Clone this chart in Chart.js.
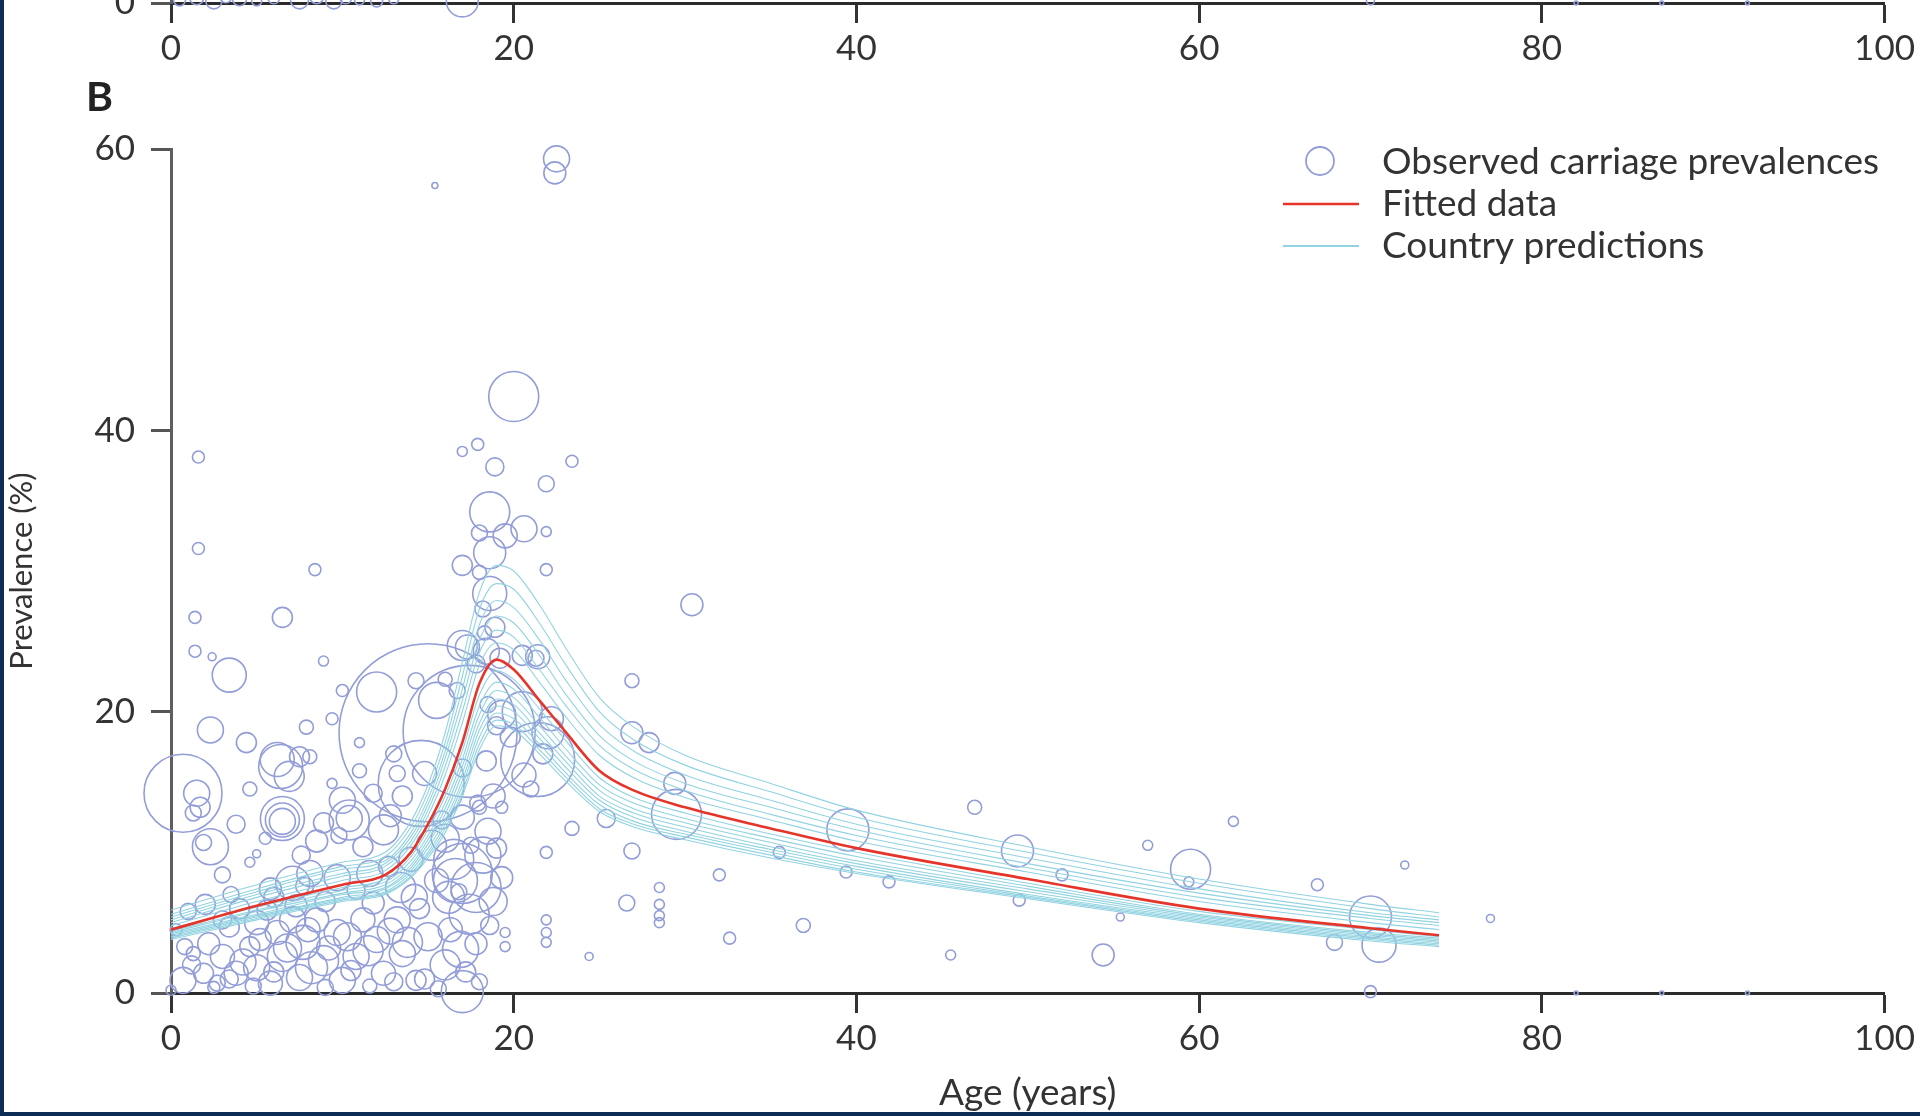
<!DOCTYPE html>
<html>
<head>
<meta charset="utf-8">
<script src="https://cdn.jsdelivr.net/npm/chart.js@4.4.1/dist/chart.umd.min.js"></script>
<style>
  html, body { margin: 0; padding: 0; background: #fff; }
  body { width: 1920px; height: 1116px; position: relative; overflow: hidden; font-family: Lato, sans-serif; }
  #topChart { position: absolute; left: 0; top: -97px; }
  #mainChart { position: absolute; left: 0; top: 0; }
  #panelLabel { position: absolute; left: 86px; top: 75px; font: bold 41px Lato; line-height: 1; color: #222; }
  .edge-left { position: absolute; left: 0; top: 0; width: 4px; height: 1116px; background: #0c2c55; }
  .edge-bottom { position: absolute; left: 0; bottom: 0; width: 1920px; height: 4px; background: #0c2c55; }
</style>
</head>
<body>
<canvas id="topChart" width="1920" height="200"></canvas>
<canvas id="mainChart" width="1920" height="1116"></canvas>
<div id="panelLabel">B</div>
<div class="edge-left"></div>
<div class="edge-bottom"></div>
<script>
// colours
const bubbleColor = '#939dd7';
const fitColor = '#e5352b';
const countryColor = '#92d3e1';

// --- panel A (only its x axis shows at the top) ---
const topAges = [0.5, 1.5, 2.5, 3.2, 4.0, 5.0, 6.0, 7.5, 8.5, 9.5, 10.2, 11.0, 12.0, 13.0, 17.0, 70.0, 82.0, 87.0, 92.0];
const topPrev = [0.3, 0.5, 0.2, 0.6, 0.4, 0.2, 0.5, 0.3, 0.6, 0.2, 0.5, 0.3, 0.2, 0.4, 0.2, 0.2, 0, 0, 0];
const topSize = [6, 7, 8, 6, 7, 5, 6, 9, 7, 8, 6, 5, 6, 5, 16, 4, 2, 2, 2];

// --- panel B: observed carriage prevalences (age, prevalence, bubble radius) ---
const obsAge = [
  21.9, 22.5, 22.4, 15.4, 20.0, 17.9, 17.0, 18.9, 23.4, 1.6, 21.9, 18.6, 18.0, 19.5, 20.6, 21.9, 1.6, 17.0, 18.6, 18.0,
  21.9, 8.4, 18.6, 18.2, 30.4, 6.5, 1.4, 8.9, 1.4, 2.4, 3.4, 17.0, 21.4, 26.9, 26.9, 27.9, 2.3, 4.4, 7.9, 9.4,
  10.0, 11.0, 12.0, 15.0, 17.4, 14.6, 21.4, 0.7, 17.0, 16.9,
  25.4, 23.4, 21.9, 26.9, 26.6, 28.5, 28.5, 28.5, 28.5, 29.4, 29.5, 32.0, 32.6, 35.5, 36.9, 39.5, 39.4, 41.9, 45.5, 46.9,
  49.4, 49.5, 52.0, 54.4, 55.4, 57.0, 59.5, 59.4, 62.0, 66.9, 67.9, 70.0, 70.5, 70.0, 72.0, 77.0, 82.0, 87.0, 92.0,
  19.5, 19.5, 21.9, 21.9, 21.9, 24.4,
  1.5, 1.7, 1.3, 6.4, 6.2, 6.9, 7.5, 6.5, 6.5, 6.5, 2.3, 1.9, 3.0, 4.6, 5.0, 8.1, 8.9, 10.4, 10.4, 10.0,
  12.4, 11.2, 14.3, 13.2, 9.4, 8.1, 7.1, 9.7, 11.6, 13.4, 13.5, 14.8, 13.0,
  0.7, 1.9, 3.0, 2.7, 3.8, 4.6, 5.0, 5.8, 6.2, 6.5, 7.1, 7.7, 7.5, 8.9, 8.5, 9.7, 10.0, 10.8, 11.2, 12.0,
  12.4, 13.2, 13.5, 14.3, 0.0, 1.3, 3.4, 5.6, 1.0, 2.0, 3.0, 0.3, 4.0, 5.0, 6.0,
  17.0, 16.5, 17.8, 18.2, 16.2, 17.4, 18.8, 16.0, 18.5, 17.0, 19.3, 15.5, 17.5, 16.8, 18.0, 15.0, 16.0, 14.5, 14.8, 15.6,
  17.3, 18.4, 17.8, 19.2, 20.5, 21.3, 22.2, 22.0, 21.7, 20.5, 19.3, 19.0, 18.5, 19.8, 20.6, 21.0, 18.8, 17.9, 19.3, 18.4,
  17.0, 16.0, 15.5, 16.7, 18.9, 18.3,
  1.2, 2.2, 3.4, 4.2, 5.2, 6.0, 6.8, 7.3, 8.0, 8.2, 9.2, 9.0, 10.3, 10.5, 11.5, 11.8, 12.8, 13.0, 13.8, 14.2,
  2.5, 4.8, 9.0, 11.6, 0.8, 5.8, 7.8, 10.8, 12.7, 3.5,
  14.0, 15.2, 16.3, 17.8, 18.6, 17.2, 18.0, 15.8, 19.0, 16.6,
  3.8, 4.6, 8.5, 9.8, 11.8, 12.8, 7.6, 5.5, 11.0
];
const obsPrev = [
  60.9, 59.3, 58.3, 57.4, 42.4, 39.0, 38.5, 37.4, 37.8, 38.1, 36.2, 34.2, 32.7, 32.5, 33.0, 32.8, 31.6, 30.4, 31.3, 29.9,
  30.1, 30.1, 28.4, 27.3, 27.6, 26.7, 26.7, 23.6, 24.3, 23.9, 22.6, 24.7, 23.9, 22.2, 18.5, 17.8, 18.7, 17.8, 18.9, 19.5,
  21.5, 17.8, 21.4, 18.5, 18.6, 14.9, 16.6, 14.2, 0.1, 3.1,
  12.4, 11.7, 10.0, 10.1, 6.4, 7.5, 6.3, 5.5, 5.0, 14.9, 12.7, 8.4, 3.9, 10.0, 4.8, 11.6, 8.6, 7.9, 2.7, 13.2,
  10.1, 6.6, 8.4, 2.7, 5.4, 10.5, 8.8, 7.9, 12.2, 7.7, 3.6, 5.4, 3.4, 0.1, 9.1, 5.3, 0.0, 0.0, 0.0,
  4.3, 3.3, 5.2, 4.3, 3.6, 2.6,
  14.2, 13.2, 12.8, 16.1, 16.6, 15.4, 16.8, 12.4, 12.3, 12.2, 10.4, 10.7, 8.4, 9.3, 9.9, 16.8, 12.1, 12.3, 12.4, 13.7,
  11.6, 10.4, 22.2, 15.6, 14.9, 8.5, 7.8, 8.2, 8.5, 7.5, 14.0, 15.6, 17.0,
  0.9, 1.4, 2.6, 0.7, 1.4, 3.3, 1.8, 0.7, 4.3, 2.6, 5.2, 3.6, 1.1, 2.3, 5.2, 4.3, 0.9, 2.6, 5.2, 3.8,
  1.4, 5.2, 2.8, 0.9, 0.2, 2.8, 4.7, 5.9, 5.8, 6.3, 5.2, 4.5, 6.0, 5.0, 6.8,
  8.5, 9.5, 7.5, 9.8, 6.8, 5.6, 6.5, 11.0, 11.5, 12.5, 8.2, 8.0, 10.5, 7.2, 13.2, 4.0, 2.0, 6.0, 1.0, 0.3,
  24.6, 24.3, 23.4, 23.8, 24.0, 23.8, 19.5, 18.5, 17.0, 20.0, 19.8, 19.0, 20.5, 18.2, 15.5, 14.5, 14.0, 13.5, 13.2, 16.5,
  16.0, 22.3, 20.8, 21.5, 26.0, 25.6,
  2.0, 3.5, 1.0, 2.2, 3.8, 1.5, 3.2, 6.2, 4.5, 1.8, 3.2, 6.5, 4.0, 1.6, 3.0, 6.4, 4.4, 0.8, 3.6, 6.8,
  0.4, 0.5, 0.4, 0.5, 3.3, 7.4, 7.6, 7.3, 9.0, 7.0,
  9.5, 10.5, 4.5, 3.5, 4.8, 1.5, 0.8, 12.3, 10.3, 8.0,
  12.0, 14.5, 10.8, 11.2, 14.2, 12.6, 9.8, 11.0, 15.8
];
const obsSize = [
  7, 13, 11, 3, 25, 6, 5, 9, 6, 6, 8, 20, 8, 12, 13, 5, 6, 10, 16, 7,
  6, 6, 17, 8, 11, 10, 6, 5, 6, 4, 17, 15, 12, 7, 11, 10, 13, 10, 7, 6,
  6, 5, 20, 89, 66, 43, 37, 39, 21, 18,
  9, 7, 6, 8, 8, 5, 5, 5, 5, 11, 25, 6, 6, 6, 7, 21, 6, 6, 5, 7,
  16, 6, 6, 11, 4, 5, 20, 5, 5, 6, 8, 21, 17, 6, 4, 4, 2, 2, 2,
  5, 5, 5, 5, 5, 4,
  13, 10, 8, 22, 17, 15, 10, 22, 17, 13, 18, 8, 8, 5, 4, 7, 10, 20, 13, 13,
  15, 10, 8, 8, 5, 13, 17, 13, 13, 15, 10, 12, 8,
  13, 10, 12, 8, 12, 10, 13, 12, 12, 15, 13, 17, 13, 15, 12, 13, 13, 13, 12, 13,
  12, 13, 13, 10, 5, 7, 10, 10, 8, 10, 9, 6, 10, 12, 10,
  30, 20, 25, 18, 16, 20, 14, 14, 13, 12, 11, 12, 8, 8, 7, 14, 15, 10, 10, 8,
  12, 13, 9, 10, 10, 8, 12, 16, 10, 20, 14, 9, 8, 10, 12, 8, 12, 8, 6, 10,
  9, 7, 18, 8, 10, 7,
  9, 11, 9, 13, 11, 10, 14, 11, 12, 16, 12, 10, 14, 10, 15, 11, 13, 9, 15, 13,
  6, 8, 8, 7, 8, 11, 9, 9, 10, 8,
  12, 15, 12, 11, 9, 10, 8, 9, 10, 22,
  9, 7, 11, 8, 9, 11, 9, 6, 7
];

// --- fitted curve and country predictions, read at these ages ---
const fitAges = [0, 5, 10, 12.5, 14, 15, 16, 17, 18, 19, 20, 21.5, 23, 25, 27, 30, 35, 40, 50, 60, 70, 74];
const fitted = [4.5, 6.2, 7.7, 8.4, 10.0, 12.0, 14.5, 17.8, 22.0, 23.7, 23.0, 20.8, 18.6, 15.8, 14.4, 13.2, 11.7, 10.3, 8.1, 6.0, 4.6, 4.1];
const countryPredictions = [
  [5.9, 7.7, 9.3, 10.0, 12.2, 14.8, 18.5, 23.5, 28.5, 30.4, 30.0, 27.6, 24.6, 21.0, 18.9, 16.9, 14.9, 13.0, 10.4, 8.1, 6.3, 5.7],
  [5.6, 7.4, 9.0, 9.7, 11.8, 14.3, 17.8, 22.5, 27.3, 29.1, 28.7, 26.3, 23.4, 20.0, 18.0, 16.2, 14.3, 12.5, 10.0, 7.8, 6.0, 5.4],
  [5.4, 7.2, 8.8, 9.4, 11.4, 13.8, 17.2, 21.6, 26.2, 27.9, 27.4, 25.1, 22.3, 19.1, 17.2, 15.5, 13.7, 12.0, 9.6, 7.4, 5.7, 5.2],
  [5.2, 7.0, 8.5, 9.2, 11.1, 13.4, 16.7, 20.8, 25.1, 26.8, 26.3, 24.0, 21.3, 18.3, 16.5, 14.9, 13.2, 11.6, 9.2, 7.1, 5.5, 5.0],
  [5.0, 6.8, 8.3, 9.0, 10.8, 13.0, 16.1, 20.0, 24.2, 25.8, 25.3, 23.0, 20.5, 17.6, 15.9, 14.4, 12.7, 11.2, 8.9, 6.8, 5.3, 4.8],
  [4.8, 6.5, 8.0, 8.7, 10.5, 12.6, 15.5, 19.2, 23.3, 24.9, 24.4, 22.1, 19.7, 16.9, 15.3, 13.9, 12.3, 10.8, 8.6, 6.5, 5.0, 4.5],
  [4.6, 6.1, 7.5, 8.1, 9.7, 11.6, 14.0, 17.2, 21.2, 22.9, 22.3, 20.2, 18.0, 15.3, 13.9, 12.8, 11.3, 10.0, 7.8, 5.8, 4.5, 4.0],
  [4.4, 5.9, 7.3, 7.9, 9.4, 11.2, 13.5, 16.6, 20.4, 22.1, 21.6, 19.6, 17.4, 14.8, 13.5, 12.4, 11.0, 9.7, 7.6, 5.6, 4.3, 3.9],
  [4.3, 5.8, 7.1, 7.7, 9.1, 10.9, 13.1, 16.1, 19.8, 21.5, 21.0, 19.0, 16.9, 14.4, 13.1, 12.1, 10.7, 9.4, 7.4, 5.5, 4.2, 3.8],
  [4.2, 5.6, 7.0, 7.5, 8.9, 10.6, 12.7, 15.6, 19.2, 20.9, 20.5, 18.5, 16.5, 14.0, 12.8, 11.8, 10.4, 9.2, 7.2, 5.4, 4.1, 3.7],
  [4.1, 5.5, 6.8, 7.4, 8.7, 10.3, 12.3, 15.1, 18.7, 20.4, 20.0, 18.1, 16.1, 13.7, 12.5, 11.5, 10.2, 9.0, 7.0, 5.3, 4.0, 3.6],
  [4.0, 5.4, 6.7, 7.2, 8.5, 10.0, 12.0, 14.7, 18.2, 19.9, 19.5, 17.7, 15.7, 13.4, 12.2, 11.3, 10.0, 8.8, 6.9, 5.2, 3.9, 3.5],
  [3.9, 5.3, 6.6, 7.1, 8.3, 9.8, 11.7, 14.3, 17.7, 19.4, 19.1, 17.3, 15.4, 13.1, 12.0, 11.1, 9.8, 8.6, 6.8, 5.1, 3.8, 3.4],
  [3.8, 5.2, 6.5, 7.0, 8.2, 9.6, 11.4, 14.0, 17.3, 19.0, 18.7, 17.0, 15.1, 12.9, 11.8, 10.9, 9.6, 8.5, 6.7, 5.0, 3.7, 3.3]
];

const xTicks = [0, 20, 40, 60, 80, 100];
const yTicks = [0, 20, 40, 60];
const legendLabels = ['Observed carriage prevalences', 'Fitted data', 'Country predictions'];

const tickFont = { family: 'Lato', size: 35 };

function xAxis(withTitle) {
  return {
    type: 'linear', min: 0, max: 100,
    afterBuildTicks: s => { s.ticks = xTicks.map(v => ({ value: v })); },
    ticks: { font: tickFont, color: '#333', padding: 5 },
    grid: { drawOnChartArea: false, drawTicks: true, tickLength: 20, tickWidth: 3, tickColor: '#333' },
    border: { color: '#2b2b2b', width: 3 },
    title: { display: withTitle, text: 'Age (years)', font: { family: 'Lato', size: 37 }, color: '#333', padding: { top: 0, bottom: 1 } },
    afterFit: s => { s.height = withTitle ? 123 : 100; }
  };
}

function yAxis(max, ticks, withTitle) {
  return {
    type: 'linear', min: 0, max: max,
    afterBuildTicks: s => { s.ticks = ticks.map(v => ({ value: v })); },
    ticks: { font: tickFont, color: '#333', padding: 16 },
    grid: { drawOnChartArea: false, drawTicks: true, tickLength: 20, tickWidth: 3, tickColor: '#555' },
    border: { color: '#5e5e5e', width: 3 },
    title: { display: withTitle, text: 'Prevalence (%)', font: { family: 'Lato', size: 31 }, color: '#333', padding: { top: 3, bottom: 0 } },
    afterFit: s => { s.width = 171; }
  };
}

const legendPlugin = {
  id: 'cornerLegend',
  afterDatasetsDraw(chart) {
    const ctx = chart.ctx;
    ctx.save();
    ctx.font = '37px Lato';
    ctx.fillStyle = '#333';
    ctx.textBaseline = 'middle';
    legendLabels.forEach((label, i) => ctx.fillText(label, 1382, 162 + i * 42));
    ctx.lineWidth = 1.8;
    ctx.strokeStyle = bubbleColor;
    ctx.beginPath();
    ctx.arc(1320, 161, 14, 0, Math.PI * 2);
    ctx.stroke();
    ctx.lineWidth = 2.5;
    ctx.strokeStyle = fitColor;
    ctx.beginPath(); ctx.moveTo(1283, 204); ctx.lineTo(1359, 204); ctx.stroke();
    ctx.lineWidth = 2;
    ctx.strokeStyle = countryColor;
    ctx.beginPath(); ctx.moveTo(1283, 246); ctx.lineTo(1359, 246); ctx.stroke();
    ctx.restore();
  }
};

const baseOptions = {
  responsive: false,
  animation: false,
  events: [],
  plugins: { legend: { display: false }, tooltip: { enabled: false } }
};

new Chart(document.getElementById('topChart'), {
  type: 'bubble',
  data: {
    datasets: [{
      data: topAges.map((a, i) => ({ x: a, y: topPrev[i], r: topSize[i] })),
      borderColor: bubbleColor, backgroundColor: 'rgba(0,0,0,0)', borderWidth: 1.6, clip: false
    }]
  },
  options: Object.assign({}, baseOptions, {
    layout: { autoPadding: false, padding: { top: 10, right: 34, left: 0, bottom: 0 } },
    scales: { x: xAxis(false), y: yAxis(6, [0], false) }
  })
});

const countryDatasets = countryPredictions.map(vals => ({
  type: 'line',
  data: fitAges.map((a, i) => ({ x: a, y: vals[i] })),
  borderColor: countryColor, borderWidth: 1.1, pointRadius: 0,
  cubicInterpolationMode: 'monotone', order: 1
}));

new Chart(document.getElementById('mainChart'), {
  type: 'bubble',
  data: {
    datasets: [
      {
        type: 'line',
        label: 'Fitted data',
        data: fitAges.map((a, i) => ({ x: a, y: fitted[i] })),
        borderColor: fitColor, borderWidth: 2.6, pointRadius: 0,
        cubicInterpolationMode: 'monotone', order: 0
      },
      ...countryDatasets,
      {
        type: 'bubble',
        label: 'Observed carriage prevalences',
        data: obsAge.map((a, i) => ({ x: a, y: obsPrev[i], r: obsSize[i] })),
        borderColor: bubbleColor, backgroundColor: 'rgba(0,0,0,0)', borderWidth: 1.6,
        clip: false, order: 2
      }
    ]
  },
  options: Object.assign({}, baseOptions, {
    layout: { autoPadding: false, padding: { top: 149, right: 34, left: 0, bottom: 0 } },
    scales: { x: xAxis(true), y: yAxis(60, yTicks, true) }
  }),
  plugins: [legendPlugin]
});
</script>
</body>
</html>
